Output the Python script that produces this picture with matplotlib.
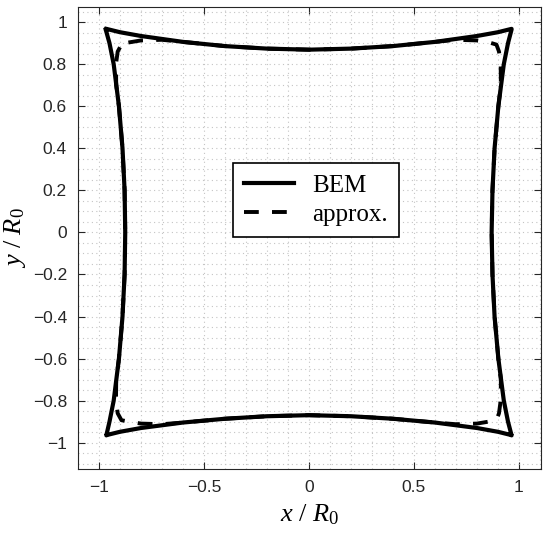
import numpy as np
import matplotlib.pyplot as plt
from matplotlib.ticker import MultipleLocator

# BEM outline (closed, corner to corner)
pos = [-0.965, -0.9, -0.8, -0.6, -0.4, -0.2, 0.0, 0.2, 0.4, 0.6, 0.8, 0.9, 0.965]
top_y = [0.968, 0.952, 0.934, 0.906, 0.886, 0.874, 0.869, 0.874, 0.886, 0.906, 0.934, 0.952, 0.968]
bot_y = [-0.964, -0.948, -0.930, -0.904, -0.886, -0.874, -0.869, -0.874, -0.886, -0.904, -0.930, -0.948, -0.964]
left_x = [-0.965, -0.950, -0.930, -0.905, -0.888, -0.878, -0.875, -0.878, -0.888, -0.905, -0.930, -0.950, -0.968]
right_x = [0.965, 0.948, 0.928, 0.902, 0.884, 0.874, 0.870, 0.874, 0.884, 0.902, 0.928, 0.948, 0.965]

# approximation, rounded corners
ap_pos = [-0.86, -0.8, -0.7, -0.6, -0.4, -0.2, 0.0, 0.2, 0.4, 0.6, 0.7, 0.8, 0.86]
ap_top = [0.903, 0.913, 0.916, 0.906, 0.886, 0.874, 0.869, 0.874, 0.886, 0.906, 0.916, 0.913, 0.903]
ap_bot = [-0.899, -0.909, -0.912, -0.904, -0.886, -0.874, -0.869, -0.874, -0.886, -0.904, -0.912, -0.909, -0.899]
ap_left = [-0.911, -0.919, -0.918, -0.905, -0.888, -0.878, -0.875, -0.878, -0.888, -0.905, -0.918, -0.919, -0.911]
ap_right = [0.905, 0.913, 0.914, 0.902, 0.884, 0.874, 0.870, 0.874, 0.884, 0.902, 0.914, 0.913, 0.905]
corner = 0.893

p = np.array(pos)
bem_x = np.concatenate([p, right_x[::-1], p[::-1], left_x])
bem_y = np.concatenate([top_y, p[::-1], bot_y[::-1], p])

a = np.array(ap_pos)
c = corner
apx = np.concatenate([a, [c], ap_right[::-1], [c], a[::-1], [-c], ap_left, [-c], a[:1]])
apy = np.concatenate([ap_top, [c], a[::-1], [-c], ap_bot[::-1], [-c], a, [c], ap_top[:1]])

plt.rcParams['font.family'] = ['Liberation Sans', 'DejaVu Sans']
plt.rcParams['mathtext.fontset'] = 'custom'
plt.rcParams['mathtext.it'] = 'Liberation Serif:italic'
plt.rcParams['mathtext.rm'] = 'Liberation Serif'

fig = plt.figure(figsize=(5.5, 5.37), dpi=100)
ax = fig.add_axes([0.1418, 0.1266, 0.8418, 0.8604])

ax.plot(bem_x, bem_y, color='k', lw=3.0, label='BEM')
ax.plot(apx, apy, color='k', lw=2.8, dashes=(3.8, 3.4), label='approx.')

ax.set_xlim(-1.1, 1.105)
ax.set_ylim(-1.125, 1.072)
ax.xaxis.set_minor_locator(MultipleLocator(0.1))
ax.yaxis.set_minor_locator(MultipleLocator(0.05))
ax.set_xticks([-1, -0.5, 0, 0.5, 1])
ax.set_xticklabels(['\u22121', '\u22120.5', '0', '0.5', '1'])
yt = np.round(np.arange(-1, 1.01, 0.2), 1)
ax.set_yticks(yt)
ax.set_yticklabels([('\u2212' if v < 0 else '') + ('%g' % abs(v)) for v in yt])

ax.grid(True, which='both', color='#c4c4c4', linestyle=(0, (1, 3)), lw=0.8)
ax.tick_params(which='major', direction='in', length=5, top=True, right=True,
               labelsize=12.5, colors='#262626', labelcolor='#262626', pad=8)
ax.tick_params(which='minor', length=0, top=True, right=True)
for s in ax.spines.values():
    s.set_color('#262626')
    s.set_linewidth(0.8)

ax.set_xlabel('$x\\ /\\ R_0$', fontsize=19, labelpad=5)
ax.set_ylabel('$y\\ /\\ R_0$', fontsize=19, labelpad=3)

leg = ax.legend(loc='center', bbox_to_anchor=(0.514, 0.582), prop={'family': 'Liberation Serif', 'size': 18},
                frameon=True, fancybox=False, edgecolor='k', framealpha=1, handlelength=2.0,
                borderpad=0.45, labelspacing=0.25, handletextpad=0.7, borderaxespad=0)
leg.get_frame().set_linewidth(1.2)

fig.savefig('out.png', dpi=100)
